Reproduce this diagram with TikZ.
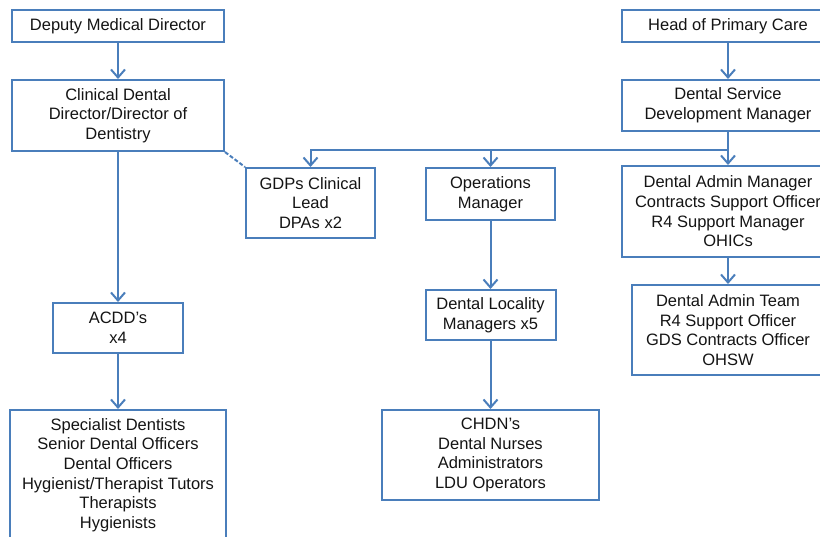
\documentclass[tikz,border=0pt]{standalone}
\usepackage{fontspec}
\setmainfont{Liberation Sans}
\usepackage{tikz}
\usetikzlibrary{arrows.meta}
\definecolor{orgblue}{HTML}{4A7EBB}
\definecolor{orgtext}{HTML}{141414}
\tikzset{
  post/.style={draw=orgblue,line width=2pt,fill=white,align=center,inner sep=0pt,
    text=orgtext,font=\fontsize{16.5}{19.7}\selectfont},
  link/.style={orgblue,line width=2pt,-{Straight Barb[length=8pt,width=14pt]}},
}
\begin{document}
\begin{tikzpicture}[x=1pt,y=-1pt]
  \useasboundingbox (0,0) rectangle (820,536);
  \clip (0,0) rectangle (820,536);
  % left branch
  \node[post,minimum width=212pt,minimum height=32pt] (dmd) at (118,26) {Deputy Medical Director};
  \node[post,minimum width=212pt,minimum height=71pt] (cdd) at (118,115.5) {Clinical Dental\\Director/Director of\\Dentistry};
  \node[post,minimum width=130pt,minimum height=50pt] (acd) at (118,328) {ACDD's\\x4};
  \node[post,minimum width=216pt,minimum height=130pt] (spe) at (118,475) {Specialist Dentists\\Senior Dental Officers\\Dental Officers\\Hygienist/Therapist Tutors\\Therapists\\Hygienists};
  % right branch
  \node[post,minimum width=212pt,minimum height=32pt] (hpc) at (728,26) {Head of Primary Care};
  \node[post,minimum width=212pt,minimum height=51pt] (dsm) at (728,105.5) {Dental Service\\Development Manager};
  \node[post,minimum width=129pt,minimum height=70pt] (gdp) at (310.5,203) {GDPs Clinical\\Lead\\DPAs x2};
  \node[post,minimum width=129pt,minimum height=52pt] (ops) at (490.5,194) {Operations\\Manager};
  \node[post,minimum width=212pt,minimum height=91pt] (dam) at (728,211.5) {Dental Admin Manager\\Contracts Support Officer\\R4 Support Manager\\OHICs};
  \node[post,minimum width=192pt,minimum height=90pt] (dat) at (728,330) {Dental Admin Team\\R4 Support Officer\\GDS Contracts Officer\\OHSW};
  \node[post,minimum width=130pt,minimum height=50pt] (dlm) at (490.5,315) {Dental Locality\\Managers x5};
  \node[post,minimum width=217pt,minimum height=90pt] (chd) at (490.5,455) {CHDN's\\Dental Nurses\\Administrators\\LDU Operators};
  \coordinate (bus) at (728,150);
  % connectors
  \draw[link] (dmd) -- (cdd);
  \draw[link] (cdd) -- (acd);
  \draw[link] (acd) -- (spe);
  \draw[link] (hpc) -- (dsm);
  \draw[orgblue,line width=2pt] (dsm) -- (bus);
  \draw[link] (bus) -| (gdp);
  \draw[link] (bus) -| (ops);
  \draw[link] (bus) -- (dam);
  \draw[link] (dam) -- (dat);
  \draw[link] (ops) -- (dlm);
  \draw[link] (dlm) -- (chd);
  \draw[orgblue,line width=2pt,dash pattern=on 4pt off 2pt] (cdd.south east) -- (gdp.north west);
\end{tikzpicture}
\end{document}
